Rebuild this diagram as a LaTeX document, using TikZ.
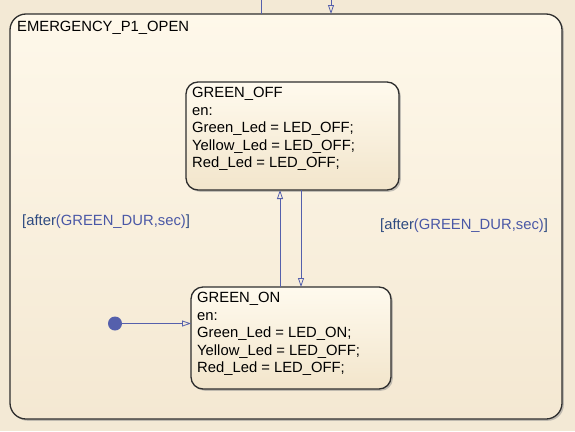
\documentclass[tikz,border=0pt]{standalone}
\usepackage{fontspec}
\setmainfont{Liberation Sans}
\usetikzlibrary{arrows.meta,shadows}
\definecolor{bgc}{HTML}{F3E9D5}
\definecolor{outtop}{HTML}{FEF8EA}
\definecolor{outbot}{HTML}{F4E8D2}
\definecolor{sttop}{HTML}{FFFAEE}
\definecolor{stbot}{HTML}{F2E5CB}
\definecolor{edge}{HTML}{2E2E2E}
\definecolor{trans}{HTML}{5560AC}
\definecolor{lbldark}{HTML}{2D4A80}
\definecolor{lbllight}{HTML}{4A58A6}
\tikzset{
  x=1pt,y=-1pt,
  chartbox/.style={draw=edge, line width=1.3pt, rounded corners=#1,
    top color=sttop, bottom color=stbot,
    drop shadow={shadow xshift=1.8pt, shadow yshift=-1.8pt, fill=black!45, opacity=0.5}},
  chartbox/.default=12pt,
  statetext/.style={anchor=north west, inner sep=0pt, align=left,
    font=\fontsize{14.8}{17.5}\selectfont},
  trlabel/.style={anchor=base west, inner sep=0pt, font=\fontsize{14.8}{17.5}\selectfont},
  trline/.style={draw=trans, line width=0.8pt},
  trarrow/.style={trline, -{Triangle[open, length=9pt, width=6pt]}},
}
\begin{document}
\begin{tikzpicture}
\fill[bgc] (0,0) rectangle (575,431);
\useasboundingbox (0,0) rectangle (575,431);
% outer state
\path[chartbox=16pt, top color=outtop, bottom color=outbot] (10,14) rectangle (562,419);
\node[statetext] (title) at (17,20.5) {EMERGENCY\_P1\_OPEN};
% GREEN_OFF
\path[chartbox] (186,82) rectangle (399,190);
\coordinate (offS1) at (280,190);
\coordinate (offS2) at (301,190);
\node[statetext] (offtxt) at (192,87.3) {GREEN\_OFF\\en:\\Green\_Led = LED\_OFF;\\Yellow\_Led = LED\_OFF;\\Red\_Led = LED\_OFF;};
% GREEN_ON
\path[chartbox] (191,287) rectangle (391,389);
\coordinate (onN1) at (280,287);
\coordinate (onN2) at (301,287);
\coordinate (onW) at (191,323.5);
\node[statetext] (ontxt) at (197,292) {GREEN\_ON\\en:\\Green\_Led = LED\_ON;\\Yellow\_Led = LED\_OFF;\\Red\_Led = LED\_OFF;};
% transitions
\draw[trarrow] (onN1) -- (offS1);
\draw[trarrow] (offS2) -- (onN2);
\node[circle, fill=trans, inner sep=0pt, minimum size=14pt] (init) at (115,323.5) {};
\draw[trarrow] (init) -- (onW);
% entering from outside
\coordinate (topA) at (261,0);
\coordinate (topAend) at (261,14);
\coordinate (topB) at (331,0);
\coordinate (topBend) at (331,14);
\draw[trline] (topA) -- (topAend);
\draw[trarrow] (topB) -- (topBend);
% labels
\node[trlabel] (lblL) at (22,225) {\textcolor{lbldark}{[after}\textcolor{lbllight}{(GREEN\_DUR,sec)}\textcolor{lbldark}{]}};
\node[trlabel] (lblR) at (380,229.5) {\textcolor{lbldark}{[after}\textcolor{lbllight}{(GREEN\_DUR,sec)}\textcolor{lbldark}{]}};
\end{tikzpicture}
\end{document}
